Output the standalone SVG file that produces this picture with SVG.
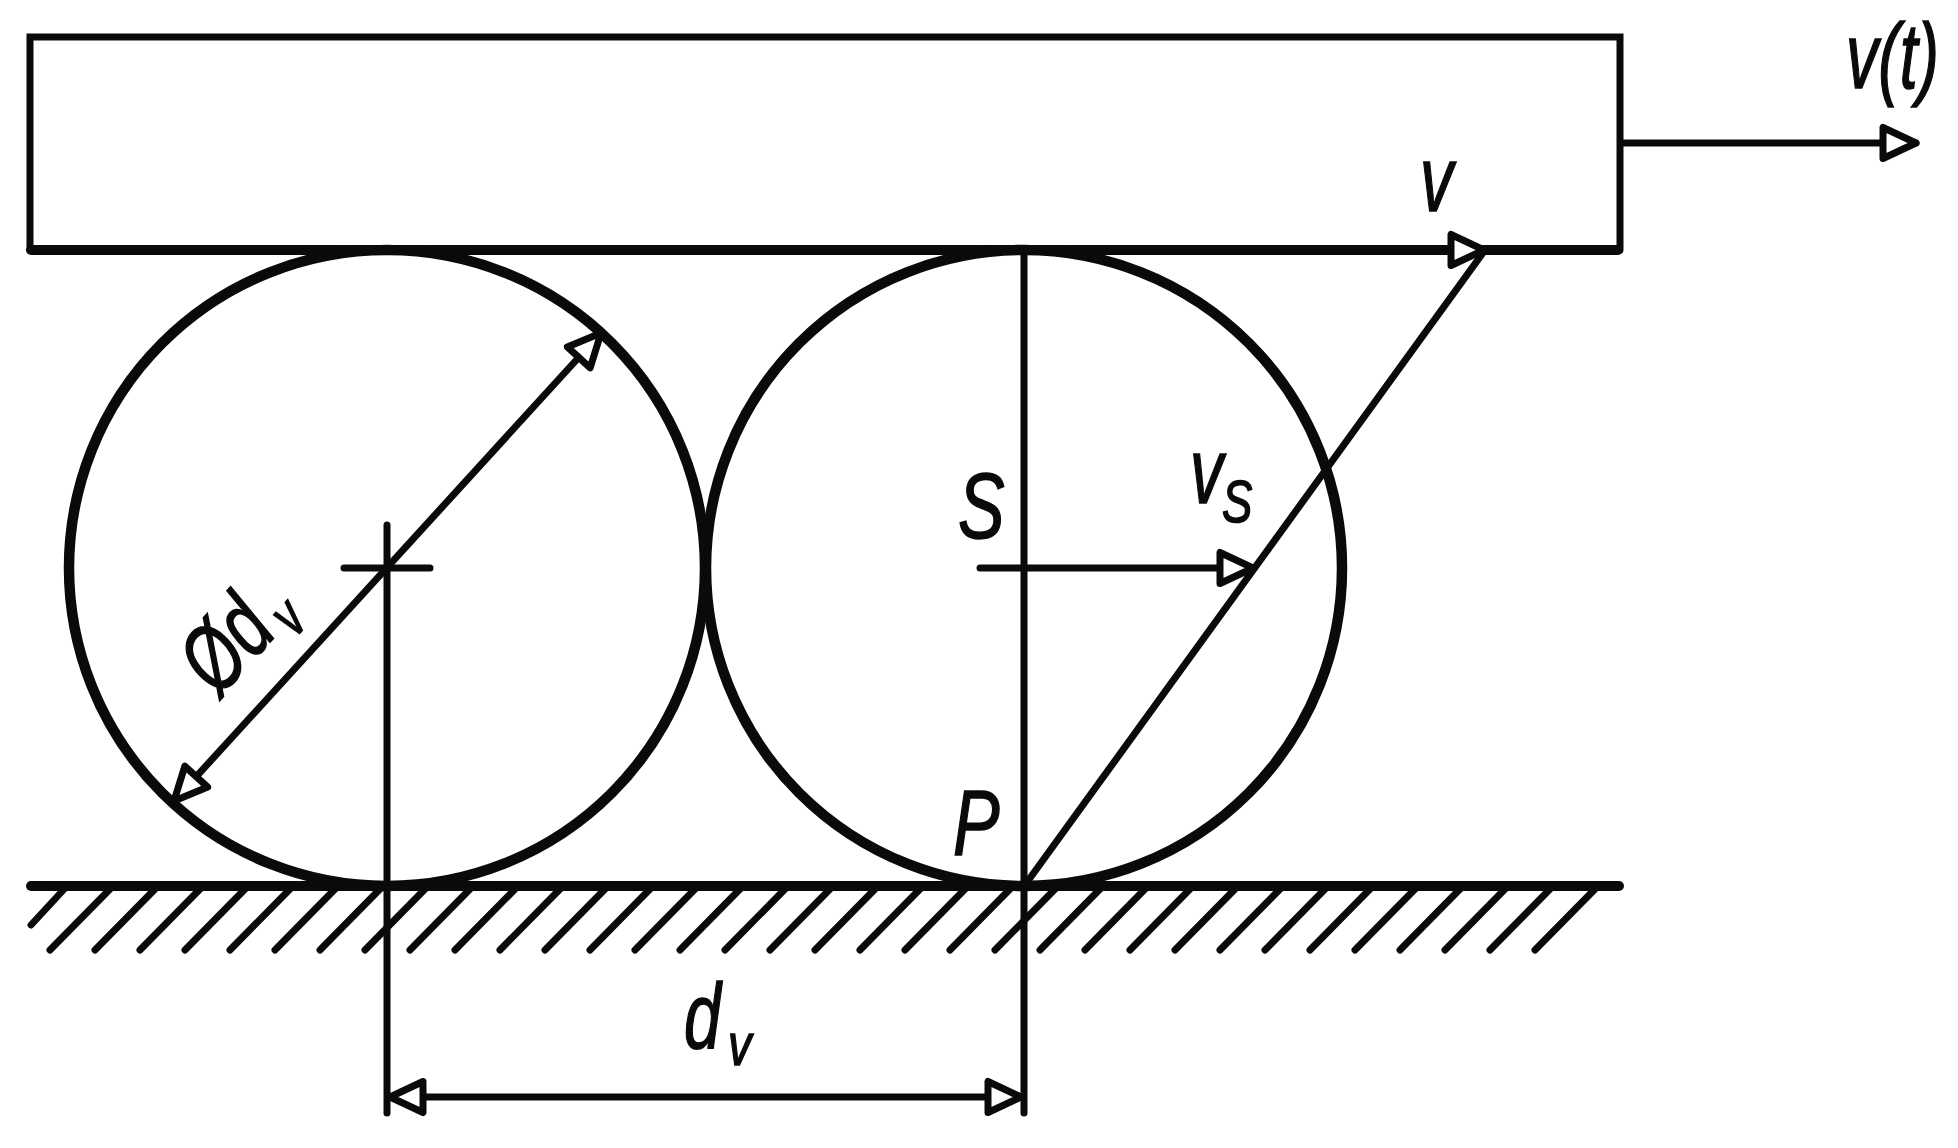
<svg xmlns="http://www.w3.org/2000/svg" width="1958" height="1148" viewBox="0 0 1958 1148">
<style>
.thin{fill:none;stroke:#0a0a0a;stroke-width:7;stroke-linecap:round;stroke-linejoin:miter}
.thick{fill:none;stroke:#0a0a0a;stroke-width:10;stroke-linecap:round}
.roll{fill:none;stroke:#0a0a0a;stroke-width:10.5}
.arr{marker-end:url(#head)}
.both{marker-start:url(#head);marker-end:url(#head)}
text{font-family:"Liberation Sans",Arial,sans-serif;font-style:italic;font-size:92px;fill:#0a0a0a;stroke:#0a0a0a;stroke-width:1.5}
.sub{font-size:60px}
</style>
<defs>
<marker id="head" markerUnits="userSpaceOnUse" viewBox="-42 -22 50 44" refX="0" refY="0" markerWidth="50" markerHeight="44" orient="auto-start-reverse">
<path d="M0 0L-33 -15.5V15.5Z" fill="#fff" stroke="#0a0a0a" stroke-width="7" stroke-linejoin="round"/>
</marker>
</defs>
<rect width="1958" height="1148" fill="#fff"/>
<g id="slab">
<path class="thin" d="M30 250V37H1620V250"/>
<path class="thick" d="M31 250H1618"/>
</g>
<g id="roller-left"><circle class="roll" cx="387" cy="568" r="318"/></g>
<g id="roller-right"><circle class="roll" cx="1024" cy="568" r="318"/></g>
<g id="ground">
<path class="thick" d="M31 886H1619"/>
<path class="thin" d="M31 925L67 886M50 950L113 886M95 950L158 886M140 950L203 886M185 950L248 886M230 950L293 886M275 950L338 886M320 950L383 886M365 950L428 886M410 950L473 886M455 950L518 886M500 950L563 886M545 950L608 886M590 950L653 886M635 950L698 886M680 950L743 886M725 950L788 886M770 950L833 886M815 950L878 886M860 950L923 886M905 950L968 886M950 950L1013 886M995 950L1058 886M1040 950L1103 886M1085 950L1148 886M1130 950L1193 886M1175 950L1238 886M1220 950L1283 886M1265 950L1328 886M1310 950L1373 886M1355 950L1418 886M1400 950L1463 886M1445 950L1508 886M1490 950L1553 886M1535 950L1598 886"/>
</g>
<g id="connectors">
<path class="thin" d="M387 525V1113"/>
<path class="thin" d="M344 568H430"/>
<path class="thin" d="M1024 250V1113"/>
<path class="thin" d="M1025 885L1485 250"/>
<path class="thin arr" d="M1622 143H1916"/>
<path class="thin arr" d="M1400 250H1484"/>
<path class="thin arr" d="M980 568H1253"/>
<path class="thin both" d="M174 801L601 333"/>
<path class="thin both" d="M390 1097H1021"/>
</g>
<g id="label-vt"><text transform="translate(1846 88) scale(.7 1)">v(t)</text></g>
<g id="label-v"><text transform="translate(1420 211) scale(.72 1)">v</text></g>
<g id="label-S"><text transform="translate(958 538) scale(.76 1)">S</text></g>
<g id="label-vs"><text transform="translate(1190 503) scale(.72 1)">v</text><text class="sub" transform="translate(1222 522) scale(.76 1)">S</text></g>
<g id="label-P"><text transform="translate(953 855) scale(.76 1)">P</text></g>
<g id="label-dv"><text transform="translate(684 1048) scale(.72 1)">d</text><text class="sub" transform="translate(728 1065) scale(.78 1)">v</text></g>
<g id="label-diameter"><text transform="translate(219 698) rotate(-47.5) scale(.72 1)">Ød<tspan class="sub" dx="10" dy="16">v</tspan></text></g>
</svg>
